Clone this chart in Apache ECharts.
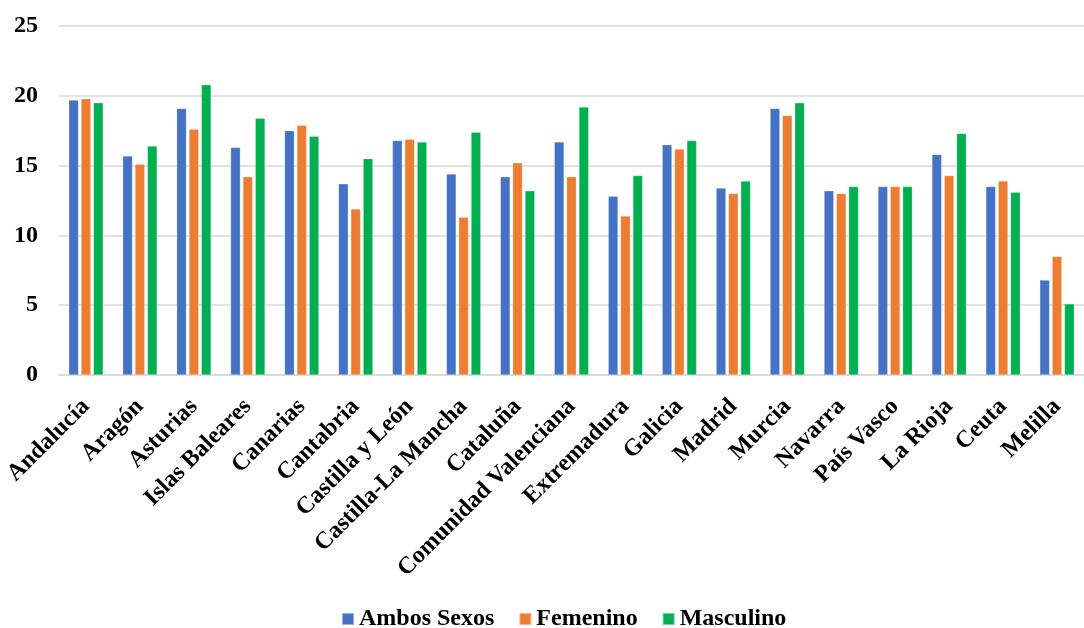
<!DOCTYPE html>
<html>
<head>
<meta charset="utf-8">
<script src="https://cdn.jsdelivr.net/npm/echarts@6/dist/echarts.min.js"></script>
<style>
  html, body { margin: 0; padding: 0; background: #ffffff; }
  #chart { width: 1084px; height: 628px; }
</style>
</head>
<body>
<div id="chart"></div>
<script>
// Regions (comunidades y ciudades autónomas)
const categories = ['Andalucía', 'Aragón', 'Asturias', 'Islas Baleares', 'Canarias', 'Cantabria',
  'Castilla y León', 'Castilla-La Mancha', 'Cataluña', 'Comunidad Valenciana', 'Extremadura',
  'Galicia', 'Madrid', 'Murcia', 'Navarra', 'País Vasco', 'La Rioja', 'Ceuta', 'Melilla'];

const ambosSexos = [19.7, 15.7, 19.1, 16.3, 17.5, 13.7, 16.8, 14.4, 14.2, 16.7, 12.8, 16.5, 13.4, 19.1, 13.2, 13.5, 15.8, 13.5, 6.8];
const femenino   = [19.8, 15.1, 17.6, 14.2, 17.9, 11.9, 16.9, 11.3, 15.2, 14.2, 11.4, 16.2, 13.0, 18.6, 13.0, 13.5, 14.3, 13.9, 8.5];
const masculino  = [19.5, 16.4, 20.8, 18.4, 17.1, 15.5, 16.7, 17.4, 13.2, 19.2, 14.3, 16.8, 13.9, 19.5, 13.5, 13.5, 17.3, 13.1, 5.1];

const seriesNames = ['Ambos Sexos', 'Femenino', 'Masculino'];
const yTicks = { min: 0, max: 25, interval: 5 };

const FONT = '"Liberation Serif", "Times New Roman", serif';
const colors = ['#4472C4', '#ED7D31', '#00B050'];

const chart = echarts.init(document.getElementById('chart'), null, { renderer: 'canvas' });

function bar(name, data, color) {
  return {
    name: name,
    type: 'bar',
    data: data,
    barGap: '25%',
    barCategoryGap: '36%',
    itemStyle: { color: color, borderColor: 'rgba(255,255,255,0.45)', borderWidth: 0.6 }
  };
}

chart.setOption({
  animation: false,
  color: colors,
  grid: { left: 59, right: -16, top: 26, bottom: 253 },
  legend: {
    bottom: -8,
    left: 336,
    itemWidth: 12,
    itemHeight: 12,
    itemGap: 24,
    icon: 'rect',
    textStyle: { fontFamily: FONT, fontWeight: 'bold', fontSize: 24, color: '#000' },
    data: seriesNames
  },
  xAxis: {
    type: 'category',
    data: categories,
    axisLine: { show: true, lineStyle: { color: '#d9d9d9', width: 1.5 } },
    axisTick: { show: false },
    axisLabel: {
      interval: 0,
      rotate: 45,
      margin: 28,
      fontFamily: FONT,
      fontWeight: 'bold',
      fontSize: 24,
      color: '#000'
    }
  },
  yAxis: {
    type: 'value',
    min: yTicks.min,
    max: yTicks.max,
    interval: yTicks.interval,
    axisLine: { show: false },
    axisTick: { show: false },
    splitLine: { lineStyle: { color: '#d9d9d9', width: 1.5 } },
    axisLabel: {
      margin: 21,
      fontFamily: FONT,
      fontWeight: 'bold',
      fontSize: 24,
      color: '#000'
    }
  },
  series: [
    bar(seriesNames[0], ambosSexos, colors[0]),
    bar(seriesNames[1], femenino, colors[1]),
    bar(seriesNames[2], masculino, colors[2])
  ]
});
</script>
</body>
</html>
